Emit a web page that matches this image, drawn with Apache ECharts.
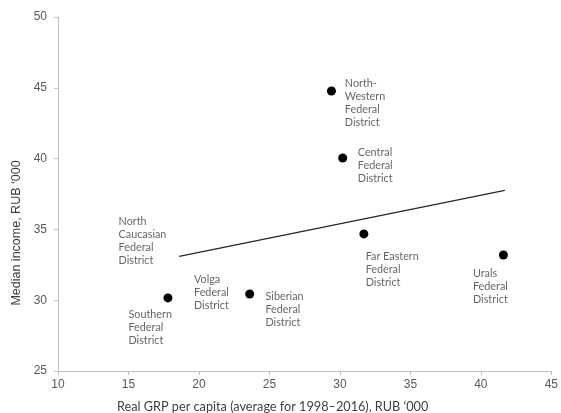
<!DOCTYPE html>
<html>
<head>
<meta charset="utf-8">
<script src="https://cdn.jsdelivr.net/npm/echarts@6/dist/echarts.min.js"></script>
<style>
html,body{margin:0;padding:0;background:#fff;}
#chart{width:561px;height:413px;}
</style>
</head>
<body>
<div id="chart"></div>
<script>
// ---- data ----
const districts = ['Southern', 'Siberian', 'North-Western', 'Central', 'Far Eastern', 'Urals'];
const grpPerCapita = [17.8, 23.6, 29.4, 30.2, 31.7, 41.6];
const medianIncome = [30.16, 30.44, 44.77, 40.04, 34.68, 33.19];
const trendX = [18.6, 41.7];
const trendY = [33.1, 37.75];
const xTicks = [10, 15, 20, 25, 30, 35, 40, 45];
const yTicks = [25, 30, 35, 40, 45, 50];
const labelTexts = [
  'North-\nWestern\nFederal\nDistrict',
  'Central\nFederal\nDistrict',
  'North\nCaucasian\nFederal\nDistrict',
  'Volga\nFederal\nDistrict',
  'Southern\nFederal\nDistrict',
  'Siberian\nFederal\nDistrict',
  'Far Eastern\nFederal\nDistrict',
  'Urals\nFederal\nDistrict'
];
// label anchor positions (top-left of each text block), in axis units
const labelAnchorX = [30.35, 31.27, 14.3, 19.65, 15.0, 24.72, 31.83, 39.44];
const labelAnchorY = [45.76, 40.89, 36.02, 31.92, 29.45, 30.72, 33.55, 32.34];

const xAxisTitle = 'Real GRP per capita (average for 1998\u20132016), RUB \u2018000';
const yAxisTitle = 'Median income, RUB \u2018000';

const chart = echarts.init(document.getElementById('chart'), null, {renderer: 'canvas'});
const axisColor = '#bfbfbf';
const tickFont = {color: '#595959', fontSize: 12, fontFamily: 'Liberation Sans, Arial, sans-serif'};

chart.setOption({
  animation: false,
  backgroundColor: '#ffffff',
  grid: {left: 58, right: 5, top: 17, bottom: 42, containLabel: false},
  xAxis: {
    type: 'value', min: xTicks[0], max: xTicks[xTicks.length - 1], interval: 5,
    axisLine: {show: true, onZero: false, lineStyle: {color: axisColor, width: 1}},
    axisTick: {show: true, length: 4, inside: false, lineStyle: {color: axisColor}},
    axisLabel: Object.assign({margin: 8}, tickFont),
    splitLine: {show: false}
  },
  yAxis: {
    type: 'value', min: yTicks[0], max: yTicks[yTicks.length - 1], interval: 5,
    axisLine: {show: true, onZero: false, lineStyle: {color: axisColor, width: 1}},
    axisTick: {show: true, length: 4, inside: false, lineStyle: {color: axisColor}},
    axisLabel: Object.assign({margin: 11}, tickFont),
    splitLine: {show: false}
  },
  graphic: [
    {
      type: 'text', left: 117, top: 400,
      style: {text: xAxisTitle, fill: '#404040', font: '12.7px Lato, "Open Sans", sans-serif'}
    },
    {
      type: 'text', x: 17, y: 233, rotation: Math.PI / 2,
      style: {text: yAxisTitle, fill: '#404040', font: '12.5px "Liberation Sans", Arial, sans-serif',
              align: 'center', verticalAlign: 'middle'}
    }
  ],
  series: [
    {
      type: 'line', silent: true,
      data: trendX.map((x, i) => [x, trendY[i]]),
      symbol: 'none',
      lineStyle: {color: '#262626', width: 1.3}
    },
    {
      type: 'scatter', silent: true,
      data: grpPerCapita.map((x, i) => ({name: districts[i], value: [x, medianIncome[i]]})),
      symbol: 'circle', symbolSize: 9,
      itemStyle: {color: '#000000', opacity: 1}
    },
    {
      type: 'scatter', silent: true,
      data: labelAnchorX.map((x, i) => ({value: [x, labelAnchorY[i]], text: labelTexts[i]})),
      symbolSize: 0,
      label: {
        show: true, position: [0, 0], align: 'left', verticalAlign: 'top',
        formatter: p => p.data.text,
        color: '#404040', fontSize: 10.8, lineHeight: 13,
        fontFamily: 'Lato, "Open Sans", sans-serif'
      }
    }
  ]
});
</script>
</body>
</html>
